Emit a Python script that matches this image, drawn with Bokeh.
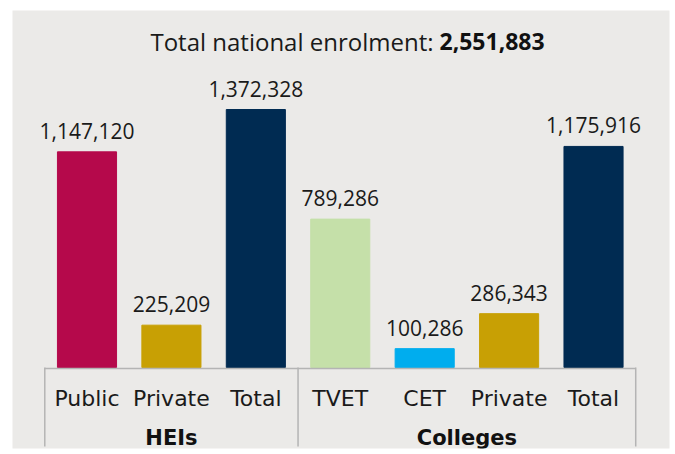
from bokeh.plotting import figure
from bokeh.models import Range1d, ColumnDataSource
from bokeh.embed import file_html
from bokeh.resources import INLINE
from bokeh.core.properties import value

# ---- data ----
categories = ["Public", "Private", "Total", "TVET", "CET", "Private", "Total"]
groups = ["HEIs", "Colleges"]
group_sizes = [3, 4]
enrolment = [1147120, 225209, 1372328, 789286, 100286, 286343, 1175916]
bar_colors = ["#b5094b", "#c8a004", "#002b52", "#c5e0a9", "#00adee", "#c8a004", "#002b52"]
total_label = "Total national enrolment:"
total_value = 2551883

# ---- layout constants (pixels) ----
W, H = 670, 450
BL, BR, BT, BB = 12, 1, 10, 2
FW, FH = W - BL - BR, H - BT - BB
PX_PER_UNIT = 84.42
FIRST_CENTER = 74.5          # frame px of first bar centre
BASE = 357                   # frame px (from top) of zero line
PX_PER_VAL = 188.0 / 1e6

x0 = -FIRST_CENTER / PX_PER_UNIT
x1 = x0 + FW / PX_PER_UNIT
y1 = BASE / PX_PER_VAL
y0 = -(FH - BASE) / PX_PER_VAL

def fy(py):
    """frame pixel (from top) -> data y"""
    return (BASE - py) / PX_PER_VAL

def fx(px):
    return x0 + px / PX_PER_UNIT

p = figure(width=W, height=H, output_backend="svg", toolbar_location=None,
           x_range=Range1d(x0, x1), y_range=Range1d(y0, y1),
           min_border_left=BL, min_border_right=BR, min_border_top=BT, min_border_bottom=BB)
p.axis.visible = False
p.grid.visible = False
p.outline_line_color = None
p.background_fill_color = "#ebeae8"
p.border_fill_color = "white"

xs = list(range(len(categories)))
src = ColumnDataSource(dict(x=xs, top=enrolment, color=bar_colors,
                            cat=categories,
                            lab=[f"{v:,}" for v in enrolment]))
p.vbar(x="x", top="top", bottom=0, width=0.70, color="color", source=src)

# value labels
p.text(x="x", y="top", text="lab", source=src, text_align="center",
       text_baseline="alphabetic", y_offset=-21, text_font=value("Open Sans"),
       text_font_size="21px", text_color="#1a1a1a")

# category labels
p.text(x="x", y=fy(388), text="cat", source=src, text_align="center",
       text_baseline="middle", text_font=value("DejaVu Sans"),
       text_font_size="22px", text_color="#1a1a1a")

# group labels & separators
starts = [0]
for s in group_sizes[:-1]:
    starts.append(starts[-1] + s)
gx = [st + (sz - 1) / 2 for st, sz in zip(starts, group_sizes)]
p.text(x=gx, y=[fy(427)] * len(gx), text=groups, text_align="center",
       text_baseline="middle", text_font=value("DejaVu Sans"),
       text_font_size="21px", text_font_style="bold", text_color="#111111")

sep_x = [st - 0.5 for st in starts] + [len(categories) - 0.5]
p.segment(x0=sep_x, y0=[0] * len(sep_x), x1=sep_x, y1=[fy(436)] * len(sep_x),
          line_color="#b4b4b4", line_width=1.5)
p.segment(x0=[-0.5], y0=[fy(358)], x1=[len(categories) - 0.5], y1=[fy(358)],
          line_color="#b4b4b4", line_width=1.5)

# title
p.text(x=[fx(421)], y=[fy(31)], text=[total_label], text_align="right",
       text_baseline="middle", text_font=value("Open Sans"), text_font_size="24px",
       text_color="#1a1a1a")
p.text(x=[fx(427)], y=[fy(31)], text=[f"{total_value:,}"], text_align="left",
       text_baseline="middle", text_font=value("Open Sans"), text_font_size="23px",
       text_font_style="bold", text_color="#111111")

open("out.html", "w").write(file_html(p, INLINE))
